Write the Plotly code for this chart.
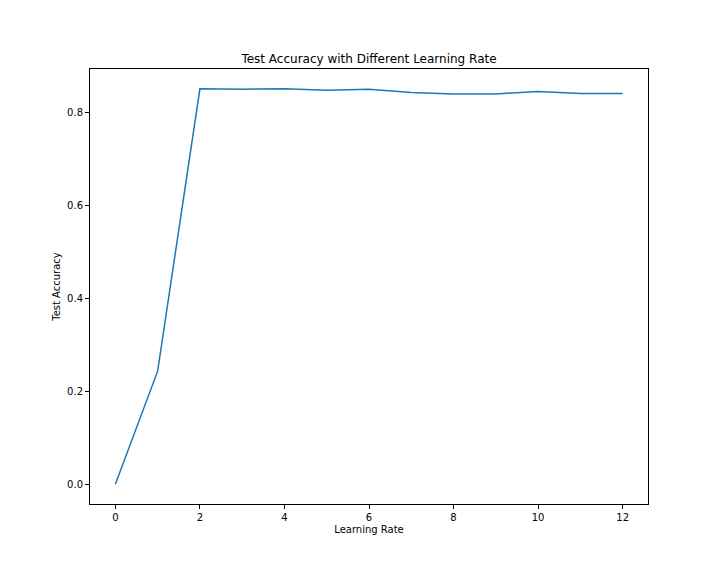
import plotly.graph_objects as go

# learning rate index vs test accuracy
learning_rate = [0, 1, 2, 3, 4, 5, 6, 7, 8, 9, 10, 11, 12]
test_accuracy = [0.0, 0.243, 0.850, 0.849, 0.850, 0.847, 0.849, 0.842, 0.839, 0.839, 0.844, 0.840, 0.840]
x_ticks = [0, 2, 4, 6, 8, 10, 12]
y_ticks = [0.0, 0.2, 0.4, 0.6, 0.8]

fig = go.Figure()
fig.add_trace(go.Scatter(x=learning_rate, y=test_accuracy, mode="lines",
                         line=dict(color="#1f77b4", width=1.5)))

axis_style = dict(showgrid=False, zeroline=False, showline=True, linecolor="black",
                  linewidth=1, mirror=True, ticks="outside", ticklen=4, tickwidth=1,
                  tickcolor="black", tickfont=dict(size=10, color="black"))

# page puts the plot div 8px in from the top-left corner
fig.update_layout(
    width=712, height=568,
    margin=dict(l=82, r=72, t=61, b=72),
    paper_bgcolor="white", plot_bgcolor="white",
    font=dict(family="DejaVu Sans", color="black"),
    showlegend=False,
    title=dict(text="Test Accuracy with Different Learning Rate", x=0.5, xanchor="center",
               xref="paper", y=1 - 51 / 568, yanchor="middle", font=dict(size=12)),
    xaxis=dict(range=[-0.6, 12.6], tickvals=x_ticks,
               title=dict(text="Learning Rate", font=dict(size=10), standoff=3), **axis_style),
    yaxis=dict(range=[-0.0425, 0.8925], tickvals=y_ticks, tickformat=".1f",
               title=dict(text="Test Accuracy", font=dict(size=10), standoff=4), **axis_style),
)

fig.write_html("out.html")
